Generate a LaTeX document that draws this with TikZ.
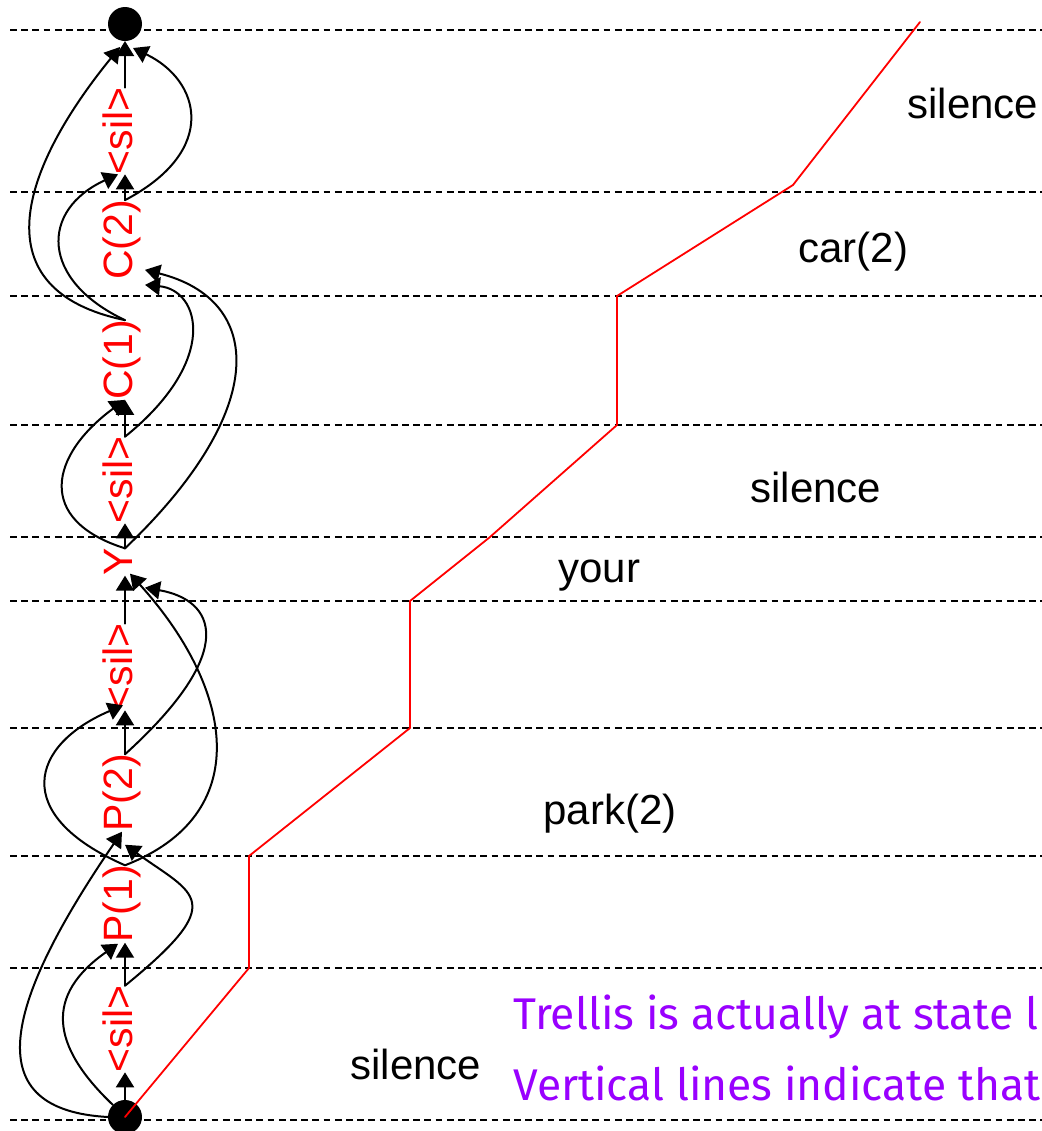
\documentclass[tikz,border=0pt]{standalone}
\usepackage{fontspec}
\setmainfont{Liberation Sans}
\newfontfamily\notefont{Fira Sans}
\usepackage{tikz}
\usetikzlibrary{arrows.meta}
\definecolor{notecol}{RGB}{153,0,255}

\begin{document}
\begin{tikzpicture}[line cap=round,line join=round,>={Triangle[length=7.5pt,width=9pt]},x=0.5pt,y=-0.5pt,
  st/.style={text=red,font=\fontsize{20.5}{21}\selectfont,rotate=90,inner sep=0pt,outer sep=0pt,text height=0.72em,text depth=0pt},
  endpt/.style={circle,fill=black,minimum size=17pt,inner sep=0pt,outer sep=0pt},
  word/.style={font=\fontsize{21}{22}\selectfont,inner sep=0pt,anchor=base west},
  note/.style={text=notecol,font=\notefont\fontsize{22.2}{24}\selectfont,inner sep=0pt,anchor=base west},
  rowline/.style={line width=1.05pt,dash pattern=on 3.4pt off 2.2pt,line cap=butt},
  trans/.style={->,line width=1pt},
  bestpath/.style={red,line width=0.9pt}]
\useasboundingbox (0.,0.) rectangle (1042.,1131.);
\clip (0.,0.) rectangle (1042.,1131.);

% frame boundaries
\draw [rowline] (10.,30.)-- (1042.,30.);
\draw [rowline] (10.,192.)-- (1042.,192.);
\draw [rowline] (10.,296.)-- (1042.,296.);
\draw [rowline] (10.,425.)-- (1042.,425.);
\draw [rowline] (10.,537.)-- (1042.,537.);
\draw [rowline] (10.,601.)-- (1042.,601.);
\draw [rowline] (10.,728.)-- (1042.,728.);
\draw [rowline] (10.,856.)-- (1042.,856.);
\draw [rowline] (10.,968.)-- (1042.,968.);
\draw [rowline] (10.,1120.)-- (1042.,1120.);

% states, bottom to top
\node [endpt] (s0) at (125.,1117.) {};
\node [st] (n1) at (125.,1029.) {<sil>};
\node [st] (p1) at (125.,904.) {P(1)};
\node [st] (p2) at (125.,793.) {P(2)};
\node [st] (n4) at (125.,667.) {<sil>};
\node [st] (y) at (125.,562.) {Y};
\node [st] (n6) at (125.,480.) {<sil>};
\node [st] (c1) at (125.,360.) {C(1)};
\node [st] (c2) at (125.,240.) {C(2)};
\node [st] (n9) at (125.,131.) {<sil>};
\node [endpt] (e0) at (125.,24.) {};

\draw [trans] (s0)-- (n1);
\draw [trans] (n1)-- (p1);
\draw [trans] (p2)-- (n4);
\draw [trans] (n4)-- (y);
\draw [trans] (y)-- (n6);
\draw [trans] (n6)-- (c1);
\draw [trans] (c2)-- (n9);
\draw [trans] (n9)-- (e0);

\draw [trans] (s0.north west) .. controls (50.,1045.) and (45.,995.) .. ([shift={(-7,1)}]p1.west);
\draw [trans] (s0.west) .. controls (-20.,1110.) and (0.,1010.) .. ([shift={(-3,0)}]p2.west);
\draw [trans] (n1.east) .. controls (230.,900.) and (195.,895.) .. ([shift={(0,13)}]p2.west);
\draw [trans] (p1.east) .. controls (10.,815.) and (30.,745.) .. ([shift={(-2,-5)}]n4.west);
\draw [trans] (p1.east) .. controls (255.,815.) and (235.,690.) .. ([shift={(5,-2)}]y.west);
\draw [trans] (p2.east) .. controls (240.,650.) and (215.,600.) .. ([shift={(20,12)}]y.west);
\draw [trans] (y.east) .. controls (35.,520.) and (50.,455.) .. (c1.west);
\draw [trans] (y.east) .. controls (270.,410.) and (265.,300.) .. ([shift={(20,-10)}]c2.west);
\draw [trans] (n6.east) .. controls (220.,360.) and (200.,290.) .. ([shift={(20,5)}]c2.west);
\draw [trans] (c1.east) .. controls (40.,280.) and (40.,210.) .. ([shift={(-7,0)}]n9.west);
\draw [trans] (c1.east) .. controls (-20.,290.) and (20.,170.) .. ([shift={(-5,6)}]e0.south);
\draw [trans] (c2.east) .. controls (220.,150.) and (200.,80.) .. ([shift={(8,7)}]e0.south);

% best path through the trellis
\draw [bestpath] (s0.center)-- (249.,968.);
\draw [bestpath] (249.,968.)-- (249.,856.);
\draw [bestpath] (249.,856.)-- (410.,728.);
\draw [bestpath] (410.,728.)-- (410.,601.);
\draw [bestpath] (410.,601.)-- (490.,537.);
\draw [bestpath] (490.,537.)-- (617.,425.);
\draw [bestpath] (617.,425.)-- (617.,296.);
\draw [bestpath] (617.,296.)-- (793.,185.);
\draw [bestpath] (793.,185.)-- (920.,22.);

\node [word] (w1) at (350.,1079.) {silence};
\node [word] (w2) at (543.,824.) {park(2)};
\node [word] (w3) at (558.,582.) {your};
\node [word] (w4) at (750.,502.) {silence};
\node [word] (w5) at (798.,262.) {car(2)};
\node [word] (w6) at (907.,118.) {silence};

\node [note] (t1) at (513.,1029.) {Trellis is actually at state l};
\node [note] (t2) at (513.,1100.) {Vertical lines indicate that};
\end{tikzpicture}
\end{document}
